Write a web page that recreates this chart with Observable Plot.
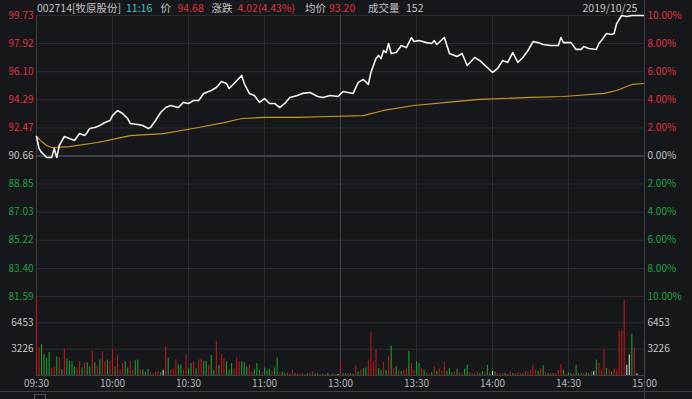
<!DOCTYPE html>
<html><head><meta charset="utf-8">
<script src="https://cdn.jsdelivr.net/npm/d3@7"></script>
<script src="https://cdn.jsdelivr.net/npm/@observablehq/plot@0.6"></script>
<style>
html,body{margin:0;padding:0;background:#15171b;}
#wrap{position:relative;width:692px;height:399px;overflow:hidden;background:#15171b;font-family:"Noto Sans CJK SC","Noto Sans",sans-serif;}
#wrap svg{position:absolute;left:0;top:0;}
.hdr{position:absolute;top:0;font-size:10.5px;line-height:15px;white-space:nowrap;color:#c4c4c4;}
.deco{position:absolute;}
</style></head><body><div id="wrap"></div>
<script>
// ---------- data ----------
const prevClose = 90.66;
const priceTicks = [99.73, 97.92, 96.10, 94.29, 92.47, 90.66, 88.85, 87.03, 85.22, 83.40, 81.59];
const pctLabels = ["10.00%","8.00%","6.00%","4.00%","2.00%","0.00%","2.00%","4.00%","6.00%","8.00%","10.00%"];
const volTicks = [3226, 6453];
const timeTicks = [0, 30, 60, 90, 120, 150, 180, 210, 240];
const timeLabels = ["09:30","10:00","10:30","11:00","13:00","13:30","14:00","14:30","15:00"];

const priceTimes = [0,1,2,4,6,7,8,9,11,13,
 15,17,19,20,21,23,25,27,29,30,
 32,34,36,37,40,42,44,45,47,49,
 51,53,56,58,60,62,64,66,69,71,
 73,75,76,78,81,82,84,86,88,90,
 92,94,96,98,100,103,105,108,111,113,
 116,119,121,123,125,127,129,131,132,134,
 135,136,137,138,139,140,142,144,146,148,
 149,151,154,156,157,158,161,163,166,168,
 170,173,175,178,180,182,184,186,188,190,
 192,194,196,198,200,203,206,207,208,211,
 213,215,216,218,221,222,223,225,227,228,
 229,231,233,235,240];
const priceValues = [91.92,91.14,90.89,90.56,90.56,91.14,90.56,91.34,91.92,91.79,
 91.66,92.11,91.98,92.18,92.44,92.50,92.63,92.82,92.95,93.27,
 93.60,93.40,93.08,92.76,92.69,92.63,92.44,92.50,92.95,93.47,
 93.79,93.92,93.79,94.12,94.05,94.24,94.24,94.70,94.89,95.08,
 95.47,95.34,95.02,95.34,95.86,95.34,94.70,94.57,94.12,94.37,
 94.05,94.05,93.79,94.05,94.44,94.57,94.70,94.76,94.50,94.44,
 94.57,94.50,94.82,94.76,94.70,95.41,95.60,95.28,96.05,96.95,
 97.15,96.95,97.47,97.34,97.92,97.28,97.34,97.79,97.66,98.30,
 98.05,98.11,97.98,97.92,98.11,97.86,98.31,97.28,97.08,97.28,
 96.50,97.02,96.82,96.37,96.05,96.31,96.82,96.70,97.34,96.70,
 97.02,97.47,98.05,97.98,97.86,97.79,97.79,98.31,97.98,97.98,
 97.54,97.54,97.73,97.60,97.54,97.92,98.11,98.57,98.50,98.57,
 99.21,99.73,99.66,99.73,99.73];

const avgTimes = [0,2,4,6,13,24,30,37,50,64,74,81,90,103,116,129,137,149,162,175,195,208,224,229,235,240];
const avgValues = [91.92,91.60,91.34,91.21,91.27,91.53,91.73,91.98,92.11,92.50,92.82,93.08,93.15,93.15,93.21,93.27,93.60,93.92,94.12,94.31,94.44,94.50,94.70,94.89,95.28,95.34];

const volumes = [9680,3360,3780,2600,2100,2810,840,970,2310,2180,
 710,3230,2020,1760,1680,1050,920,1680,920,1550,
 1550,1050,3020,1550,1130,1890,2900,1680,1890,1760,
 3150,1050,2520,710,1470,1680,920,1760,630,1810,
 1890,710,710,420,760,340,210,420,500,340,
 630,3490,2100,630,840,1970,1260,1260,630,2520,
 840,1470,1680,840,1890,2020,1680,1760,1260,2440,
 630,4200,1260,2520,2020,1680,630,1470,840,2100,
 1680,1680,1600,1050,1260,420,760,1470,630,420,
 920,630,760,420,920,2100,340,420,250,340,
 210,630,210,170,210,250,130,170,250,420,
 170,210,130,170,130,250,130,170,130,130,
 1680,210,170,250,170,130,1130,420,630,840,
 920,1890,5250,1680,3150,840,630,1680,630,2310,
 3570,840,1050,630,500,630,840,2940,1470,630,
 1680,1470,840,630,340,210,340,1050,500,840,
 500,1600,500,840,340,420,760,340,250,760,
 1260,340,210,210,340,210,500,340,1260,210,
 500,420,210,250,210,250,170,420,250,210,
 340,250,210,500,420,630,1260,630,500,840,
 1180,340,210,250,250,210,630,1340,630,210,
 340,250,250,1260,210,250,210,340,250,420,
 500,1890,1470,630,3150,840,630,420,840,630,
 5460,5460,9240,1260,2520,5040,3360,210,0,0,
 4410];
// r = up, g = down, w = flat
const volumeDirs = ("rrggggrrgr" + "grggggrrgr" + "ggrgrgrrgr" + "rgrrrggrrg" + "grgggrrrrg" +
  "wrgrrrggrr" + "ggrgrrggrg" + "grgrrgggrr" + "rgggrrgggr" + "gggrggrggr" +
  "rrgrrrrgrr" + "ggrgrgrgrw" + "rggrggrgrg" + "grrrrggrgr" + "grgrgrrgrr" +
  "ggrgrrgrgr" + "rrgggrgrrg" + "grrrrggrgg" + "wgrrrgrrgr" + "rrgrrrrrgr" +
  "grgrgrrrgr" + "ggrggrrggr" + "wgrrrgrgrr" + "rrrwwgrwwww").split("");

// ---------- styling ----------
const BG = "#15171b", GRID = "#2a2c31", GRID2 = "#43454a", BORDER = "#3c3e43";
const GRAY = "#c4c4c4", RED = "#e0323a", GREEN = "#22a13f", CYAN = "#3fc5c5";
const barColor = {r: "#b81a1a", g: "#1f9a2f", w: "#d6d6d6"};
const font = '"Noto Sans CJK SC","Noto Sans",sans-serif';
const W = 692, H = 399;

const priceRows = priceTimes.map((t, i) => ({t, p: priceValues[i]}));
const avgRows = avgTimes.map((t, i) => ({t, p: avgValues[i]}));
const barRows = volumes.map((v, i) => ({t: i, v, c: barColor[volumeDirs[i]]}));
const tickColor = d => d > prevClose + 1e-6 ? RED : (d < prevClose - 1e-6 ? GREEN : GRAY);
const innerTimes = timeTicks.slice(1, -1);

const wrap = document.getElementById("wrap");

const pricePlot = Plot.plot({
  width: W, height: H,
  marginLeft: 36, marginRight: 48, marginTop: 15, marginBottom: 103,
  style: {background: "transparent", fontFamily: font, fontSize: "10px", overflow: "visible"},
  x: {domain: [0, 240], axis: null},
  y: {domain: [81.59, 99.73], axis: null},
  color: {type: "identity"},
  marks: [
    Plot.ruleY(priceTicks.filter(d => d !== prevClose), {stroke: GRID}),
    Plot.ruleX(innerTimes, {y1: 81.59, y2: 99.73, stroke: d => d === 120 ? GRID2 : GRID}),
    Plot.ruleX([0], {y1: 81.59, y2: 99.73, stroke: BORDER}),
    Plot.ruleY([prevClose], {stroke: "#4a4c52", strokeWidth: 1.5}),
    Plot.line(avgRows, {x: "t", y: "p", stroke: "#c9961c", strokeWidth: 1.2}),
    Plot.line(priceRows, {x: "t", y: "p", stroke: "#f2f2f2", strokeWidth: 1.6}),
    Plot.text(priceTicks, {x: 0, y: d => d, text: d => d.toFixed(2), textAnchor: "end", dx: -3, fill: tickColor, fontSize: 10}),
    Plot.text(priceTicks, {x: 240, y: d => d, text: (d, i) => pctLabels[i], textAnchor: "start", dx: 3, fill: tickColor, fontSize: 10})
  ]
});

const volPlot = Plot.plot({
  width: W, height: H,
  marginLeft: 36, marginRight: 48, marginTop: 296, marginBottom: 24,
  style: {background: "transparent", fontFamily: font, fontSize: "10px", overflow: "visible"},
  x: {domain: [0, 240], axis: null},
  y: {domain: [0, 9680], axis: null},
  color: {type: "identity"},
  marks: [
    Plot.ruleY(volTicks, {stroke: GRID}),
    Plot.ruleX(innerTimes, {y1: 0, y2: 9680, stroke: d => d === 120 ? GRID2 : GRID}),
    Plot.ruleX([0], {y1: 0, y2: 9680, stroke: BORDER}),
    Plot.ruleY([0], {stroke: BORDER}),
    Plot.ruleX(barRows, {x: "t", y1: 0, y2: "v", stroke: "c", strokeWidth: 1.1}),
    Plot.text(volTicks, {x: 0, y: d => d, text: d => String(d), textAnchor: "end", dx: -3, fill: GRAY, fontSize: 10}),
    Plot.text(volTicks, {x: 240, y: d => d, text: d => String(d), textAnchor: "start", dx: 3, fill: GRAY, fontSize: 10}),
    Plot.text(timeTicks, {x: d => d, y: 0, dy: 8, text: (d, i) => timeLabels[i], fill: "#b4b4b4", fontSize: 10})
  ]
});

wrap.appendChild(pricePlot);
wrap.appendChild(volPlot);

// decorations: right border, bottom separator, small icon
function deco(css) { const d = document.createElement("div"); d.className = "deco"; d.style.cssText = css; wrap.appendChild(d); }
deco("left:643.5px;top:0;width:1px;height:399px;background:" + BORDER);
deco("left:0;top:391px;width:692px;height:1px;background:" + BORDER);
deco("left:34px;top:394px;width:12px;height:10px;border:1px solid #55575c;box-sizing:border-box");

// header
const header = [
  {x: 37, t: "002714[牧原股份]", c: GRAY},
  {x: 126, t: "11:16", c: CYAN},
  {x: 160.5, t: "价", c: GRAY},
  {x: 177.5, t: "94.68", c: RED},
  {x: 211.5, t: "涨跌", c: GRAY},
  {x: 237.5, t: "4.02(4.43%)", c: RED},
  {x: 305, t: "均价", c: GRAY},
  {x: 329, t: "93.20", c: RED},
  {x: 368, t: "成交量", c: GRAY},
  {x: 406, t: "152", c: GRAY},
  {x: 582.5, t: "2019/10/25", c: GRAY}
];
header.forEach(h => {
  const s = document.createElement("div");
  s.className = "hdr";
  s.style.left = h.x + "px";
  s.style.color = h.c;
  s.textContent = h.t;
  wrap.appendChild(s);
});
</script></body></html>
